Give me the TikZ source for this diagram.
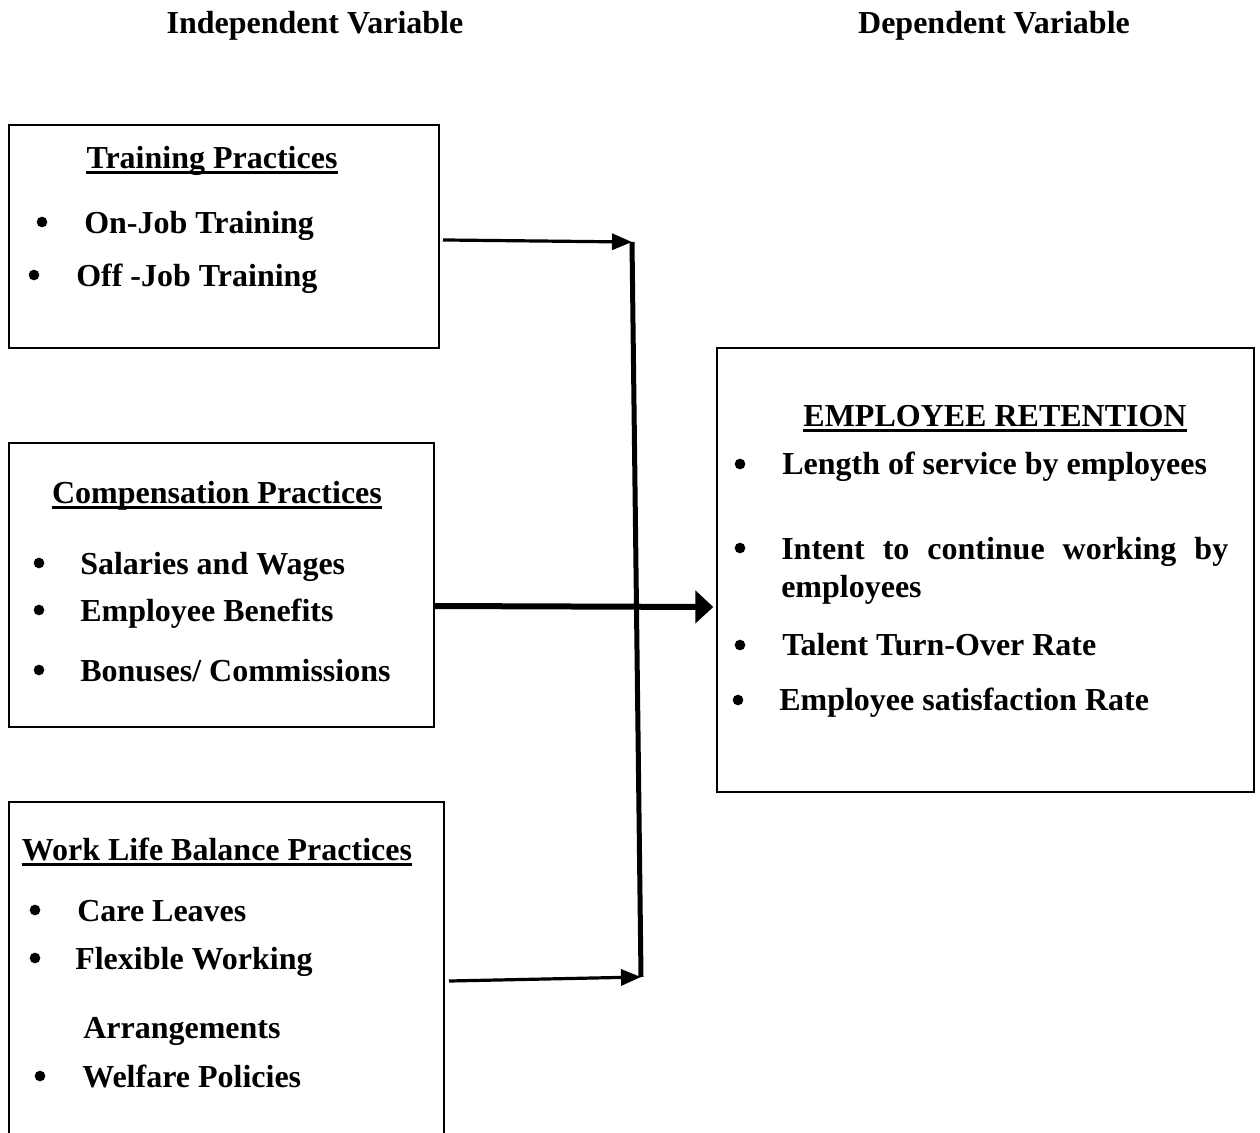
\documentclass[tikz,border=0pt]{standalone}
\usepackage{fontspec}
\setmainfont{Liberation Serif}
\usetikzlibrary{arrows.meta}

\begin{document}
\begin{tikzpicture}[x=.75pt,y=-.75pt,
  every node/.style={font=\fontsize{24pt}{28pt}\selectfont\bfseries},
  box/.style={draw,line width=1.5pt,inner sep=0},
  head/.style={anchor=base,inner sep=0},
  txt/.style={anchor=base west,inner sep=0},
  dot/.style={circle,fill,inner sep=0,minimum size=8pt},
  uline/.style={line width=2pt},
  feed/.style={line width=2.4pt,-{Triangle[length=15pt,width=12pt]}},
  trunk/.style={line width=3.75pt},
  main/.style={line width=4.5pt,-{Triangle[length=13.5pt,width=24pt]}}]
\useasboundingbox(0,0)rectangle(1260,1132);
% column titles
\node[head](iv)at(315,33){Independent Variable};
\node[head](dv)at(994,33){Dependent Variable};
% boxes
\node[box,minimum width=322.5pt,minimum height=167.25pt](tr)at(224,236.5){};
\node[box,minimum width=318.75pt,minimum height=213pt](cp)at(221.5,585){};
\node[box,minimum width=326.25pt,minimum height=268.5pt](wl)at(226.5,981){};
\node[box,minimum width=402.75pt,minimum height=333pt](rt)at(985.5,570){};
% box headings
\node[head](trh)at(212,168){Training Practices};
\node[head](cph)at(217,503){Compensation Practices};
\node[head](wlh)at(217,860){Work Life Balance Practices};
\node[head](rth)at(995,426){EMPLOYEE RETENTION};
\foreach \h in {trh,cph,wlh,rth}
  \draw[uline]([yshift=-3.5pt]\h.base west)--([yshift=-3.5pt]\h.base east);
% training
\node[dot](b1)at(42,222){};
\node[txt](oj)at(84,233){On-Job Training};
\node[dot](b2)at(34,275){};
\node[txt](fj)at(76,286){Off -Job Training};
% compensation
\node[dot](b3)at(39,563){};
\node[txt](sw)at(80,574){Salaries and Wages};
\node[dot](b4)at(39,610){};
\node[txt](eb)at(80,621){Employee Benefits};
\node[dot](b5)at(39,670){};
\node[txt](bc)at(80,681){Bonuses/ Commissions};
% work life
\node[dot](b6)at(35,910){};
\node[txt](cl)at(77,921){Care Leaves};
\node[dot](b7)at(35,958){};
\node[txt](fw)at(75,969){Flexible Working};
\node[txt](ar)at(83,1038){Arrangements};
\node[dot](b8)at(40,1076){};
\node[txt](wp)at(82,1087){Welfare Policies};
% retention
\node[dot](b9)at(740,464){};
\node[txt](ls)at(782,474){Length of service by employees};
\node[dot](b10)at(740,548){};
\node[txt](ic)at(781,559){\makebox[335.25pt][s]{Intent to continue working by}};
\node[txt](ie)at(781,597){employees};
\node[dot](b11)at(740,645){};
\node[txt](tt)at(782,655){Talent Turn-Over Rate};
\node[dot](b12)at(738,700){};
\node[txt](es)at(779,710){Employee satisfaction Rate};
% arrows
\coordinate(jt)at(632,242);
\coordinate(jb)at(641,977);
\draw[trunk](jt)--(jb);
\draw[feed]([xshift=2.25pt,yshift=-2.6pt]tr.east)--(jt);
\draw[feed]([xshift=3pt]wl.east)--(jb);
\draw[main]([yshift=-15.75pt]cp.east)--([xshift=-2pt,yshift=-27.75pt]rt.west);
\end{tikzpicture}
\end{document}
